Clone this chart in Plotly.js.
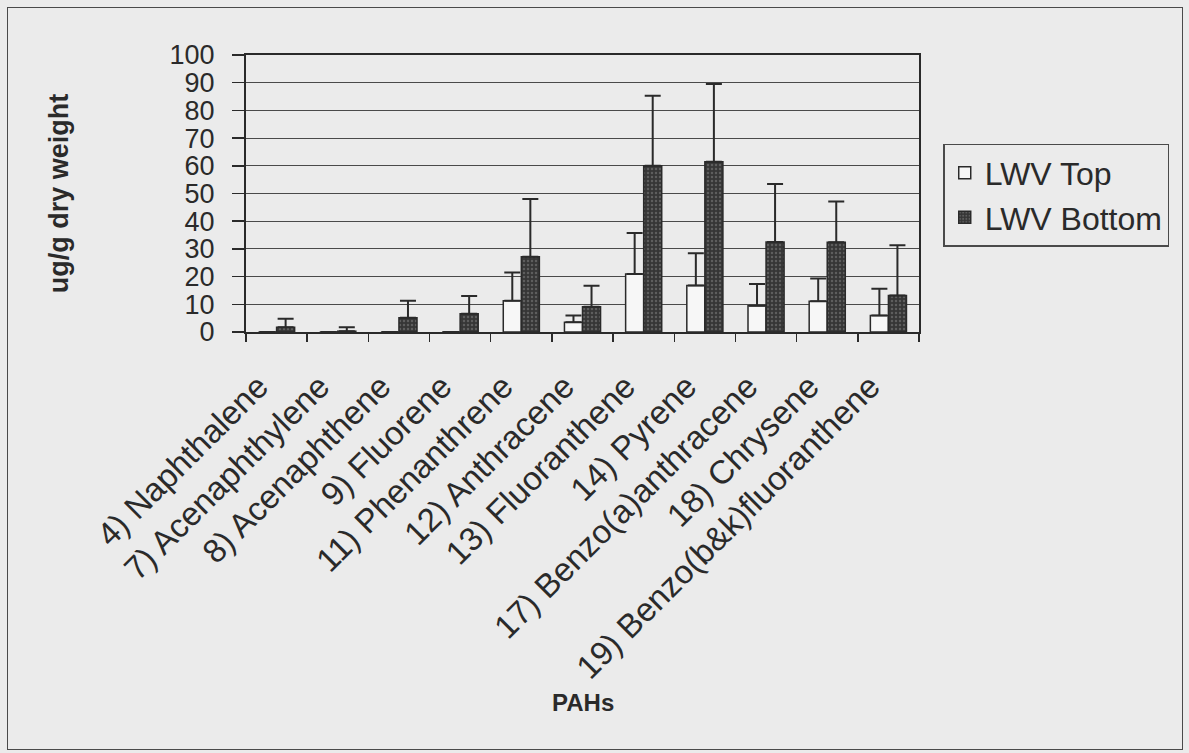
<!DOCTYPE html>
<html>
<head>
<meta charset="utf-8">
<script src="https://cdn.plot.ly/plotly-3.0.1.min.js"></script>
<style>
  html, body { margin: 0; padding: 0; background: #ebebeb; }
  #frame {
    position: absolute; left: 7px; top: 7px; width: 1176px; height: 743px;
    border: 1.5px solid #4a4a4a; box-sizing: border-box;
  }
  #chart { position: absolute; left: 0; top: 0; width: 1189px; height: 753px; }
</style>
</head>
<body>
<div id="frame"></div>
<div id="chart"></div>
<script>
// PAH concentrations in LWV sediments (ug/g dry weight), mean with +1 SD
const pahNames = [
  '4) Naphthalene', '7) Acenaphthylene', '8) Acenaphthene', '9) Fluorene',
  '11) Phenanthrene', '12) Anthracene', '13) Fluoranthene', '14) Pyrene',
  '17) Benzo(a)anthracene', '18) Chrysene', '19) Benzo(b&k)fluoranthene'
];
const topMean    = [0, 0, 0, 0, 11.3, 3.5, 20.9, 16.8, 9.5, 11.1, 6.0];
const topSD      = [0, 0, 0, 0, 10.2, 2.5, 14.8, 11.6, 7.8, 8.2, 9.6];
const bottomMean = [1.7, 0.3, 5.1, 6.6, 27.2, 9.1, 60.0, 61.5, 32.5, 32.4, 13.2];
const bottomSD   = [3.1, 1.4, 6.2, 6.4, 20.8, 7.6, 25.3, 28.0, 20.9, 14.7, 18.1];
const yTicks = [0, 10, 20, 30, 40, 50, 60, 70, 80, 90, 100];

const ink = '#2a2a2a';
const font = 'Liberation Sans, Arial, sans-serif';

const traces = [
  {
    type: 'bar', name: 'LWV Top', x: pahNames, y: topMean,
    marker: { color: '#f7f7f7', line: { color: ink, width: 1.5 } },
    error_y: { type: 'data', symmetric: false, array: topSD,
               arrayminus: topSD.map(() => 0), color: ink, thickness: 2, width: 8 }
  },
  {
    type: 'bar', name: 'LWV Bottom', x: pahNames, y: bottomMean,
    marker: { color: '#383838', line: { color: ink, width: 1.5 },
              pattern: { shape: '.', bgcolor: '#363636', fgcolor: '#5e5e5e',
                         size: 4, solidity: 0.3, fillmode: 'replace' } },
    error_y: { type: 'data', symmetric: false, array: bottomSD,
               arrayminus: bottomSD.map(() => 0), color: ink, thickness: 2, width: 8 }
  }
];

const layout = {
  width: 1189, height: 753,
  margin: { l: 246, r: 270, t: 55, b: 421 },
  paper_bgcolor: 'rgba(0,0,0,0)',
  plot_bgcolor: '#ebebeb',
  font: { family: font, color: ink },
  barmode: 'group', bargap: 0.41, bargroupgap: 0,
  showlegend: true,
  legend: {
    x: 1.036, y: 0.679, xanchor: 'left', yanchor: 'top',
    bgcolor: '#ebebeb', bordercolor: '#4a4a4a', borderwidth: 1.5,
    font: { size: 32, family: font, color: ink },
    itemwidth: 30
  },
  xaxis: {
    type: 'category', tickangle: -45,
    tickfont: { size: 33, family: font, color: ink },
    ticklabelstandoff: 20, ticklabelshift: -18,
    showline: true, linecolor: ink, linewidth: 2, mirror: true,
    ticks: 'outside', tickson: 'boundaries', ticklen: 8, tickcolor: ink, tickwidth: 1.5,
    showgrid: false, automargin: false
  },
  yaxis: {
    range: [0, 100], tickvals: yTicks, ticktext: yTicks.map(String),
    tickfont: { size: 27, family: font, color: ink },
    ticks: 'outside', ticklen: 12, tickcolor: ink, tickwidth: 1.5,
    ticklabelstandoff: 12,
    showline: true, linecolor: ink, linewidth: 2, mirror: true,
    showgrid: true, gridcolor: '#4a4a4a', gridwidth: 1,
    zeroline: false, automargin: false,
    title: { text: '<b>ug/g dry weight</b>', font: { size: 27, family: font, color: ink }, standoff: 93 }
  },
  annotations: [{
    xref: 'paper', yref: 'paper', x: 0.50, y: -1.339, yanchor: 'middle',
    text: '<b>PAHs</b>', showarrow: false,
    font: { size: 24, family: font, color: ink }
  }]
};

Plotly.newPlot('chart', traces, layout, { displayModeBar: false, staticPlot: true });
</script>
</body>
</html>
